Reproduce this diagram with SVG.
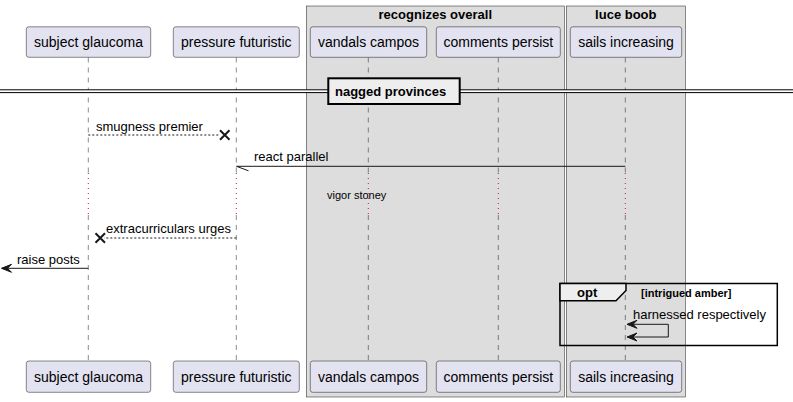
<svg xmlns="http://www.w3.org/2000/svg" width="793" height="402" viewBox="0 0 793 402">
<style>
text{font-family:"Liberation Sans",Arial,sans-serif;fill:#000}
.p{fill:#E2E2F0;stroke:#181818;stroke-width:0.5}
.pt{font-size:14px;text-anchor:middle}
.bx{fill:#DDDDDD;stroke:#181818;stroke-width:0.5}
.bt{font-size:13px;font-weight:bold;text-anchor:middle}
.ll{stroke:#181818;stroke-width:0.5;stroke-dasharray:5,5;fill:none}
.dl{stroke:#C2185B;stroke-width:1;stroke-dasharray:1,4;fill:none}
.m{font-size:13px}
.sol{stroke:#181818;stroke-width:1;fill:none}
.dsh{stroke:#181818;stroke-width:1;stroke-dasharray:2,2;fill:none}
.x{stroke:#181818;stroke-width:2}
.ah{fill:#181818;stroke:#181818;stroke-width:1}
</style>
<g id="box-recognizes-overall">
<rect class="bx" x="306.3" y="6" width="258" height="391"/>
<text class="bt" x="435.3" y="19">recognizes overall</text>
</g>
<g id="box-luce-boob">
<rect class="bx" x="566.3" y="6" width="119" height="391"/>
<text class="bt" x="625.8" y="19">luce boob</text>
</g>
<g id="lifelines">
<path class="ll" d="M88.3,57.5V173M88.3,215V361"/>
<path class="ll" d="M236.3,57.5V173M236.3,215V361"/>
<path class="ll" d="M368.3,57.5V173M368.3,215V361"/>
<path class="ll" d="M498.3,57.5V173M498.3,215V361"/>
<path class="ll" d="M625.3,57.5V173M625.3,215V361"/>
<path class="dl" d="M88.3,173V215M236.3,173V215M368.3,173V215M498.3,173V215M625.3,173V215"/>
</g>
<g id="p-subject-glaucoma">
<rect class="p" x="26.3" y="26.8" width="124.4" height="30.5" rx="2.5"/>
<text class="pt" x="88.5" y="47">subject glaucoma</text>
<rect class="p" x="26.3" y="361" width="124.4" height="31.3" rx="2.5"/>
<text class="pt" x="88.5" y="382">subject glaucoma</text>
</g>
<g id="p-pressure-futuristic">
<rect class="p" x="173.3" y="26.8" width="126" height="30.5" rx="2.5"/>
<text class="pt" x="236.3" y="47">pressure futuristic</text>
<rect class="p" x="173.3" y="361" width="126" height="31.3" rx="2.5"/>
<text class="pt" x="236.3" y="382">pressure futuristic</text>
</g>
<g id="p-vandals-campos">
<rect class="p" x="310.3" y="26.8" width="116.4" height="30.5" rx="2.5"/>
<text class="pt" x="368.5" y="47">vandals campos</text>
<rect class="p" x="310.3" y="361" width="116.4" height="31.3" rx="2.5"/>
<text class="pt" x="368.5" y="382">vandals campos</text>
</g>
<g id="p-comments-persist">
<rect class="p" x="436.3" y="26.8" width="124" height="30.5" rx="2.5"/>
<text class="pt" x="498.3" y="47">comments persist</text>
<rect class="p" x="436.3" y="361" width="124" height="31.3" rx="2.5"/>
<text class="pt" x="498.3" y="382">comments persist</text>
</g>
<g id="p-sails-increasing">
<rect class="p" x="570.3" y="26.8" width="111.4" height="30.5" rx="2.5"/>
<text class="pt" x="626" y="47">sails increasing</text>
<rect class="p" x="570.3" y="361" width="111.4" height="31.3" rx="2.5"/>
<text class="pt" x="626" y="382">sails increasing</text>
</g>
<g id="divider">
<rect x="0" y="89.8" width="793" height="2.8" fill="#FFFFFF"/>
<path d="M0,89.8H793M0,92.6H793" stroke="#000" stroke-width="1"/>
<rect x="328.3" y="78.3" width="131.4" height="25.7" fill="#EEEEEE" stroke="#000" stroke-width="2"/>
<text x="335" y="96" style="font-size:13px;font-weight:bold">nagged provinces</text>
</g>
<g id="connectors">
<path class="dsh" d="M88.3,135H220"/>
<path class="x" d="M220,130.2L229.5,139.7M220,139.7L229.5,130.2"/>
<text class="m" x="96" y="131">smugness premier</text>
<path class="sol" d="M625.3,166.3H236.5L248.5,170.8"/>
<text class="m" x="254" y="161">react parallel</text>
<text x="327" y="199" style="font-size:11px">vigor stoney</text>
<path class="dsh" d="M236.3,238H104"/>
<path class="x" d="M95.5,233.3L105,242.8M95.5,242.8L105,233.3"/>
<text class="m" x="106" y="233">extracurriculars urges</text>
<path class="sol" d="M88.3,268.3H2"/>
<polygon class="ah" points="1.5,268.3 11.5,264.3 7.5,268.3 11.5,272.3"/>
<text class="m" x="17" y="264">raise posts</text>
</g>
<g id="opt-fragment">
<rect x="560" y="283.5" width="217.3" height="62" fill="none" stroke="#000" stroke-width="1.5"/>
<polygon points="560,283.5 626,283.5 626,290.5 616,300.8 560,300.8" fill="#EEEEEE" stroke="#000" stroke-width="1.5"/>
<text x="577" y="297" style="font-size:13px;font-weight:bold">opt</text>
<text x="641" y="296.5" style="font-size:11px;font-weight:bold">[intrigued amber]</text>
<text class="m" x="633" y="319">harnessed respectively</text>
<path class="sol" d="M628,324.3H668.3V337H628"/>
<polygon class="ah" points="627,324.3 637,320.3 633,324.3 637,328.3"/>
<polygon class="ah" points="627,337 637,333 633,337 637,341"/>
</g>
</svg>
